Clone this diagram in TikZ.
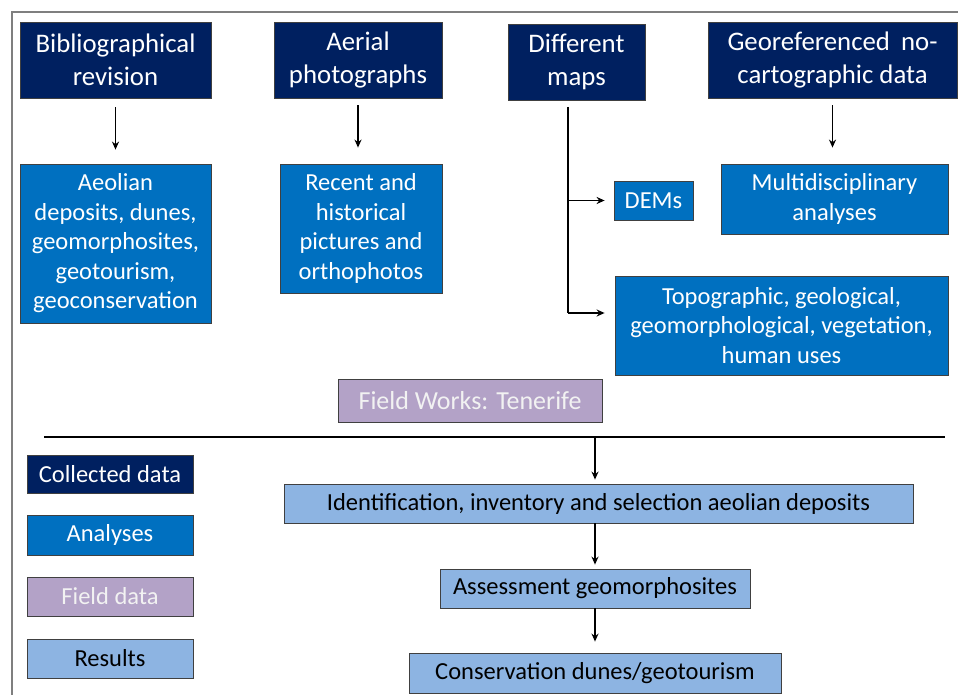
\documentclass[tikz,border=0pt]{standalone}
\usepackage{fontspec}
\setmainfont{Carlito}
\usetikzlibrary{arrows.meta}
\definecolor{navyc}{HTML}{002060}
\definecolor{bluec}{HTML}{0070C0}
\definecolor{purplec}{HTML}{B3A2C7}
\definecolor{lightc}{HTML}{8DB4E2}
\definecolor{framec}{HTML}{7F7F7F}
\begin{document}
\begin{tikzpicture}[x=1pt,y=-1pt,
  box/.style={rectangle, draw=black!75, line width=0.8pt, inner sep=2pt, align=center},
  navybox/.style={box, fill=navyc, text=white, font=\fontsize{26.8}{33}\selectfont},
  bluebox/.style={box, fill=bluec, text=white, font=\fontsize{24.5}{29.5}\selectfont},
  fieldbox/.style={box, fill=purplec, text=white!95!black},
  resbox/.style={box, fill=lightc, text=black, font=\fontsize{24.5}{29.5}\selectfont},
  arr/.style={line width=1.6pt, -{Stealth[length=8pt,width=7pt]}},
  trunkline/.style={line width=1.6pt}]
\useasboundingbox (0,0) rectangle (958,695);
% frame
\coordinate (fbl) at (12,695);
\coordinate (ftl) at (12,12);
\coordinate (ftr) at (958,12);
\draw[framec, line width=1.5pt] (fbl) -- (ftl) -- (ftr);

% top row
\node[navybox, minimum width=191, minimum height=76] (bib) at (115.5,60) {Bibliographical\\revision};
\node[navybox, minimum width=168, minimum height=76] (aer) at (358,60) {Aerial\\photographs};
\node[navybox, minimum width=137, minimum height=76] (maps) at (576.5,62) {Different\\maps};
\node[navybox, minimum width=249, minimum height=76] (geo) at (832.5,60) {Georeferenced\hspace{5pt} no-\\cartographic data};

% second row
\node[bluebox, minimum width=191, minimum height=159] (aeo) at (115.5,243.5) {Aeolian\\deposits, dunes,\\geomorphosites,\\geotourism,\\geoconservation};
\node[bluebox, minimum width=162, minimum height=129] (rec) at (361,228.5) {Recent and\\historical\\pictures and\\orthophotos};
\node[bluebox, minimum width=79, minimum height=39] (dems) at (653.5,200.5) {DEMs};
\node[bluebox, minimum width=227, minimum height=70] (multi) at (834.5,199) {Multidisciplinary\\analyses};
\node[bluebox, minimum width=333, minimum height=99] (topo) at (781.5,325.5) {Topographic, geological,\\geomorphological, vegetation,\\human uses};

% arrows top
\draw[arr] ([yshift=-9]bib.south) -- ([yshift=14]aeo.north -| bib.south);
\draw[arr] ([yshift=-7]aer.south) -- ([yshift=16]aer.south |- rec.north);
\draw[arr] ([yshift=-7]geo.south) -- ([yshift=16]geo.south |- multi.north);
\coordinate (trunk) at (568,107);
\coordinate (tcorner) at (568,313);
\draw[trunkline] (trunk) -- (tcorner);
\draw[arr] (trunk |- dems.west) -- ([xshift=-9]dems.west);
\draw[arr] (tcorner) -- ([xshift=-10]topo.west |- tcorner);

% field works
\node[fieldbox, font=\fontsize{26}{31}\selectfont, minimum width=264, minimum height=43] (field) at (470,400.5) {Field Works: Tenerife};

% separator
\coordinate (sepL) at (44,437);
\coordinate (sepR) at (945,437);
\coordinate (sepM) at (595,437);
\draw[line width=2.2pt] (sepL) -- (sepR);

% legend
\node[navybox, font=\fontsize{24.5}{29.5}\selectfont, minimum width=166, minimum height=38] (leg1) at (110,474) {Collected data};
\node[bluebox, minimum width=166, minimum height=40] (leg2) at (110,535) {Analyses};
\node[fieldbox, font=\fontsize{24.5}{29.5}\selectfont, minimum width=166, minimum height=39] (leg3) at (110,596.5) {Field data};
\node[resbox, minimum width=166, minimum height=39] (leg4) at (110,658.5) {Results};

% results chain
\node[resbox, minimum width=629, minimum height=39] (ident) at (598.5,503.5) {Identification, inventory and selection aeolian deposits};
\node[resbox, minimum width=310, minimum height=39] (assess) at (595,588.5) {Assessment geomorphosites};
\node[resbox, minimum width=372, minimum height=40] (cons) at (595,673) {Conservation dunes/geotourism};

\draw[arr] (sepM) -- ([yshift=4]sepM |- ident.north);
\draw[arr] (sepM |- ident.south) -- ([yshift=4]sepM |- assess.north);
\draw[arr] (sepM |- assess.south) -- ([yshift=11]sepM |- cons.north);
\end{tikzpicture}
\end{document}
